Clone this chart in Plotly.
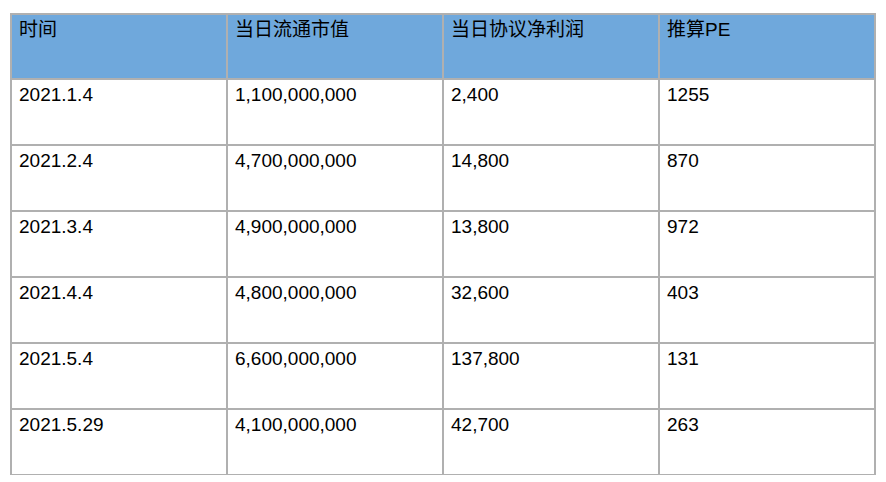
import plotly.graph_objects as go

headers = ['时间', '当日流通市值', '当日协议净利润', '推算PE']
dates = ['2021.1.4', '2021.2.4', '2021.3.4', '2021.4.4', '2021.5.4', '2021.5.29']
market_cap = ['1,100,000,000', '4,700,000,000', '4,900,000,000', '4,800,000,000', '6,600,000,000', '4,100,000,000']
net_profit = ['2,400', '14,800', '13,800', '32,600', '137,800', '42,700']
pe = ['1255', '870', '972', '403', '131', '263']

font = dict(family='Liberation Sans, Noto Sans CJK SC', size=19, color='black')

fig = go.Figure(go.Table(
    domain=dict(x=[3 / 886, 867 / 886], y=[1 - 467 / 482, 1 - 6 / 482]),
    columnwidth=[1, 1, 1, 1],
    header=dict(values=headers, fill_color='#6fa8dc', line=dict(color='#b0b0b0', width=2),
                align='left', font=font, height=65),
    cells=dict(values=[dates, market_cap, net_profit, pe], fill_color='white',
               line=dict(color='#b0b0b0', width=2), align='left', font=font, height=66),
))
fig.update_layout(width=886, height=482, margin=dict(l=0, r=0, t=0, b=0),
                  paper_bgcolor='white')
fig.write_html('out.html')
